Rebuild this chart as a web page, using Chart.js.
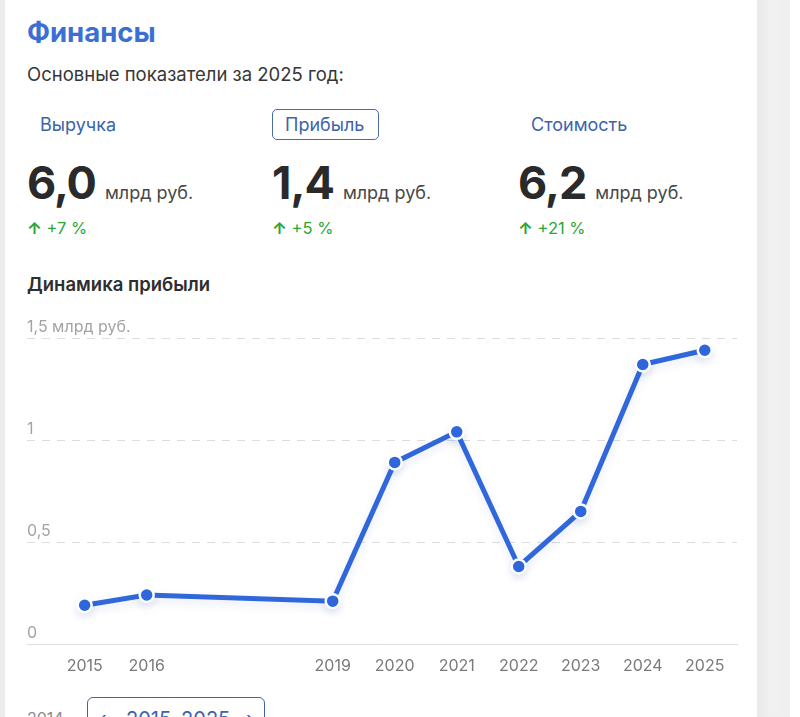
<!DOCTYPE html>
<html lang="ru">
<head>
<meta charset="utf-8">
<title>Финансы</title>
<script src="https://cdn.jsdelivr.net/npm/chart.js@4.4.1/dist/chart.umd.min.js"></script>
<style>
  html, body { margin: 0; padding: 0; background: #fff; }
  body { width: 800px; height: 717px; position: relative; overflow: hidden; font-family: Inter, "Noto Sans", sans-serif; }
  .strip-l { position: absolute; left: 0; top: 0; width: 5px; height: 717px; background: #ececec; }
  .strip-r { position: absolute; left: 757px; top: 0; width: 33px; height: 717px; background: linear-gradient(90deg, #e9e9e9, #f1f1f1 40%, #eeeeee); }
  .t { position: absolute; white-space: nowrap; }
  .title { left: 27px; top: 17px; line-height: 30px; font-size: 27.5px; font-weight: 700; color: #3b6fd4; }
  .sub { left: 27px; top: 62px; line-height: 24px; font-size: 18.5px; color: #363636; }
  .tab { top: 113px; line-height: 24px; font-size: 18px; color: #3d63ab; }
  .tabbox { position: absolute; left: 272px; top: 109px; width: 105px; height: 29px; border: 1.5px solid #4b6aa6; border-radius: 5px; }
  .big { top: 158px; line-height: 50px; font-size: 45px; font-weight: 700; color: #2a2a2a; letter-spacing: -1px; }
  .unit { font-size: 18px; font-weight: 400; color: #484848; letter-spacing: 0; margin-left: 9px; }
  .up { top: 218px; line-height: 20px; font-size: 16.5px; color: #2aa632; }
  .up b { font-weight: 700; }
  .h2 { left: 27px; top: 272px; line-height: 24px; font-size: 18.5px; font-weight: 600; color: #2e2e2e; }
  #wrap { position: absolute; left: 0; top: 300px; width: 757px; height: 390px; }
  .yr { left: 27px; top: 708px; font-size: 16px; color: #8a8a8a; line-height: 20px; }
  .range { position: absolute; left: 87px; top: 697px; width: 176px; height: 30px; border: 1.5px solid #44639e; border-radius: 6px; }
  .range span { position: absolute; top: 10px; line-height: 22px; font-size: 20px; color: #3b63b0; }
</style>
</head>
<body>
<div class="strip-l"></div>
<div class="strip-r"></div>

<div class="t title">Финансы</div>
<div class="t sub">Основные показатели за 2025 год:</div>

<div class="t tab" style="left:40px">Выручка</div>
<div class="tabbox"></div>
<div class="t tab" style="left:285px">Прибыль</div>
<div class="t tab" style="left:531px">Стоимость</div>

<div class="t big" style="left:27px">6,0<span class="unit">млрд руб.</span></div>
<div class="t big" style="left:272px">1,4<span class="unit">млрд руб.</span></div>
<div class="t big" style="left:518px">6,2<span class="unit">млрд руб.</span></div>

<div class="t up" style="left:27px"><b>↑</b> +7 %</div>
<div class="t up" style="left:272px"><b>↑</b> +5 %</div>
<div class="t up" style="left:518px"><b>↑</b> +21 %</div>

<div class="t h2">Динамика прибыли</div>

<div id="wrap"><canvas id="profitChart"></canvas></div>

<div class="t yr">2014</div>
<div class="range"><span style="left:11px">‹</span><span style="left:38px">2015–2025</span><span style="left:158px">›</span></div>

<script>
// прибыль, млрд руб.
var years = [2015, 2016, 2019, 2020, 2021, 2022, 2023, 2024, 2025];
var profit = [0.19, 0.24, 0.21, 0.89, 1.04, 0.38, 0.65, 1.37, 1.44];
var yTicks = [0, 0.5, 1, 1.5];
var yTickLabels = ['0', '0,5', '1', '1,5 млрд руб.'];

var lineColor = '#3068dc';

// мягкая тень под линией
var shadowPlugin = {
  id: 'lineShadow',
  beforeDatasetDraw: function (chart) {
    var ctx = chart.ctx;
    ctx.save();
    ctx.shadowColor = 'rgba(40, 80, 180, 0.12)';
    ctx.shadowBlur = 8;
    ctx.shadowOffsetY = 4;
  },
  afterDatasetDraw: function (chart) {
    chart.ctx.restore();
  }
};

var points = years.map(function (y, i) { return { x: y, y: profit[i] }; });

new Chart(document.getElementById('profitChart'), {
  type: 'line',
  data: {
    datasets: [{
      label: 'Прибыль',
      data: points,
      borderColor: lineColor,
      borderWidth: 5,
      tension: 0,
      pointRadius: 7,
      pointHoverRadius: 7,
      pointBackgroundColor: lineColor,
      pointBorderColor: '#ffffff',
      pointBorderWidth: 2.5,
      fill: false
    }]
  },
  options: {
    responsive: true,
    maintainAspectRatio: false,
    animation: false,
    layout: { padding: { top: 38, left: 27, right: 20, bottom: 0 } },
    plugins: { legend: { display: false }, tooltip: { enabled: false } },
    scales: {
      x: {
        type: 'linear',
        min: 2014.07,
        max: 2025.52,
        afterBuildTicks: function (s) {
          s.ticks = years.map(function (v) { return { value: v }; });
        },
        afterFit: function (s) { s.height = 46; },
        grid: { display: false, drawTicks: false },
        border: { display: true, color: '#dedede', width: 1 },
        ticks: {
          padding: 13,
          color: '#7a7a7a',
          font: { family: 'Inter', size: 16 },
          callback: function (v) { return String(v); }
        }
      },
      y: {
        min: 0,
        max: 1.5,
        afterBuildTicks: function (s) {
          s.ticks = yTicks.map(function (v) { return { value: v }; });
        },
        afterFit: function (s) { s.width = 0; },
        border: { display: false, dash: [8, 7] },
        grid: {
          drawTicks: false,
          color: function (c) { return c.tick && c.tick.value === 0 ? 'rgba(0,0,0,0)' : '#dcdcdc'; },
          lineWidth: 1
        },
        ticks: {
          mirror: true,
          padding: 0,
          labelOffset: -11,
          color: '#a3a3a3',
          font: { family: 'Inter', size: 16 },
          callback: function (v) {
            var i = yTicks.indexOf(v);
            return i >= 0 ? yTickLabels[i] : '';
          }
        }
      }
    }
  },
  plugins: [shadowPlugin]
});
</script>
</body>
</html>
